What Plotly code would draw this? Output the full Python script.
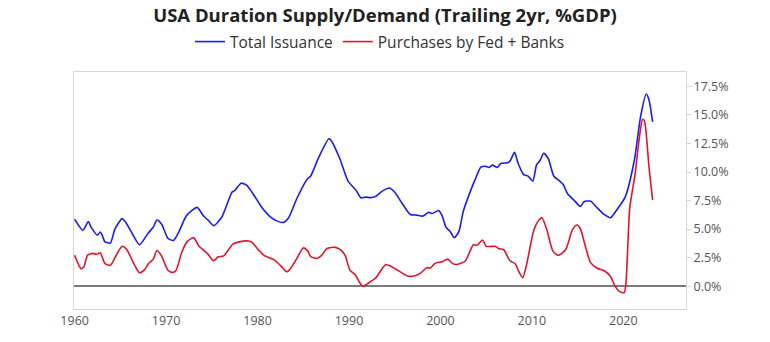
import plotly.graph_objects as go

# Total Issuance (trailing 2yr, % of GDP)
issuance_years = [1960.0, 1960.9, 1961.5, 1961.8, 1962.5, 1962.8, 1963.0, 1963.3, 1963.9, 1964.4,
                  1965.2, 1965.6, 1966.2, 1967.1, 1968.0, 1968.6, 1969.0, 1969.5, 1970.2, 1970.8,
                  1971.3, 1972.2, 1972.8, 1973.4, 1974.1, 1974.6, 1975.2, 1976.1, 1977.2, 1977.5,
                  1978.2, 1978.8, 1979.5, 1980.4, 1981.3, 1982.1, 1982.8, 1983.4, 1984.3, 1985.4,
                  1985.8, 1986.7, 1987.8, 1988.1, 1989.0, 1989.9, 1990.8, 1991.3, 1991.8, 1992.5,
                  1993.0, 1993.6, 1994.4, 1995.0, 1995.8, 1996.7, 1997.4, 1998.1, 1998.7, 1999.1,
                  1999.8, 2000.2, 2000.6, 2001.1, 2001.5, 2002.0, 2002.5, 2003.3, 2003.8, 2004.4,
                  2004.9, 2005.3, 2005.7, 2006.2, 2006.6, 2007.3, 2007.6, 2008.1, 2008.5, 2009.1,
                  2009.6, 2010.1, 2010.5, 2010.9, 2011.3, 2011.8, 2012.4, 2012.9, 2013.4, 2013.9,
                  2014.6, 2015.3, 2015.7, 2016.4, 2017.0, 2017.9, 2018.6, 2019.3, 2020.2, 2021.2,
                  2021.9, 2022.5, 2022.8, 2023.2]
issuance_values = [5.86, 4.9, 5.67, 5.17, 4.47, 4.75, 4.5, 3.9, 3.77, 5.0,
                   5.92, 5.58, 4.75, 3.63, 4.6, 5.17, 5.8, 5.44, 4.19, 4.0,
                   4.6, 6.14, 6.62, 6.9, 6.14, 5.78, 5.3, 6.06, 8.23, 8.37,
                   9.02, 8.85, 8.1, 6.98, 6.14, 5.72, 5.58, 6.0, 7.68, 9.35,
                   9.63, 11.3, 12.92, 12.7, 11.16, 9.2, 8.37, 7.73, 7.8, 7.76,
                   7.9, 8.3, 8.6, 8.23, 7.26, 6.28, 6.22, 6.14, 6.47, 6.36,
                   6.62, 6.14, 5.17, 4.75, 4.25, 4.75, 6.56, 8.37, 9.35, 10.4,
                   10.5, 10.4, 10.6, 10.4, 10.75, 10.8, 10.95, 11.73, 10.75, 9.77,
                   9.63, 9.2, 10.6, 11.03, 11.64, 11.16, 9.63, 9.3, 8.93, 8.1,
                   7.54, 6.98, 7.4, 7.45, 6.98, 6.28, 6.0, 6.7, 7.8, 11.03,
                   14.93, 16.83, 16.33, 14.38]

# Purchases by Fed + Banks (trailing 2yr, % of GDP)
purchases_years = [1960.0, 1960.7, 1961.0, 1961.4, 1962.0, 1962.4, 1962.8, 1963.3, 1963.9, 1964.6,
                   1965.2, 1965.7, 1966.4, 1967.1, 1967.6, 1968.1, 1968.6, 1969.0, 1969.5, 1970.2,
                   1970.7, 1971.1, 1971.7, 1972.3, 1973.0, 1973.6, 1974.1, 1974.6, 1975.2, 1975.7,
                   1976.3, 1977.3, 1978.1, 1979.0, 1979.4, 1980.0, 1980.7, 1981.8, 1982.5, 1983.2,
                   1983.6, 1984.3, 1985.0, 1985.5, 1985.8, 1986.5, 1987.0, 1987.6, 1988.5, 1989.2,
                   1989.6, 1990.1, 1990.7, 1991.2, 1991.5, 1992.0, 1992.5, 1992.9, 1994.0, 1994.4,
                   1995.3, 1996.4, 1997.1, 1997.8, 1998.5, 1998.9, 1999.4, 2000.2, 2000.8, 2001.3,
                   2001.8, 2002.7, 2003.6, 2004.0, 2004.6, 2005.0, 2006.0, 2006.4, 2006.9, 2007.6,
                   2008.2, 2008.5, 2009.0, 2009.4, 2010.2, 2010.7, 2011.1, 2011.6, 2012.3, 2012.9,
                   2013.7, 2014.4, 2014.9, 2015.3, 2015.8, 2016.4, 2017.1, 2018.0, 2018.6, 2019.1,
                   2019.6, 2020.1, 2020.3, 2020.7, 2021.3, 2021.7, 2022.1, 2022.3, 2022.8, 2023.2]
purchases_values = [2.7, 1.53, 1.67, 2.7, 2.87, 2.79, 2.93, 2.0, 1.82, 2.79,
                    3.49, 3.21, 2.09, 1.17, 1.4, 2.0, 2.37, 3.12, 2.65, 1.4,
                    1.2, 1.4, 2.93, 3.9, 4.25, 3.49, 3.16, 2.79, 2.23, 2.57,
                    2.65, 3.68, 3.9, 3.96, 3.83, 3.27, 2.7, 2.32, 1.82, 1.26,
                    1.53, 2.43, 3.35, 3.07, 2.6, 2.43, 2.7, 3.3, 3.4, 3.12,
                    2.65, 1.4, 0.98, 0.28, 0.0, 0.2, 0.48, 0.7, 1.87, 1.82,
                    1.4, 0.89, 0.89, 1.12, 1.62, 1.59, 2.0, 2.15, 2.37, 2.0,
                    1.9, 2.18, 3.63, 3.58, 4.05, 3.49, 3.49, 3.27, 3.21, 2.23,
                    1.95, 1.4, 0.75, 1.82, 4.88, 5.72, 6.0, 5.03, 3.07, 2.7,
                    3.21, 4.88, 5.36, 5.03, 3.63, 2.09, 1.59, 1.31, 0.84, 0.0,
                    -0.48, -0.56, 0.42, 6.84, 9.9, 12.7, 14.6, 14.5, 10.47, 7.54]

x_tick_values = [1960, 1970, 1980, 1990, 2000, 2010, 2020]
y_tick_values = [0.0, 2.5, 5.0, 7.5, 10.0, 12.5, 15.0, 17.5]

FONT = "Open Sans, Noto Sans, sans-serif"

fig = go.Figure()
fig.add_trace(go.Scatter(x=issuance_years, y=issuance_values, mode="lines",
                         name="Total Issuance",
                         line=dict(color="#1a1aff", width=1.6, shape="spline", smoothing=0.6)))
fig.add_trace(go.Scatter(x=purchases_years, y=purchases_values, mode="lines",
                         name="Purchases by Fed + Banks",
                         line=dict(color="#e3132b", width=1.6, shape="spline", smoothing=0.6)))

fig.update_layout(
    width=770, height=342,
    margin=dict(l=74, r=84, t=61, b=33),
    paper_bgcolor="white", plot_bgcolor="white",
    font=dict(family=FONT, color="#555555", size=12),
    title=dict(text="<b>USA Duration Supply/Demand (Trailing 2yr, %GDP)</b>",
               x=0.5, xanchor="center", y=1 - 16 / 342, yanchor="middle",
               yref="container",
               font=dict(family=FONT, size=18.5, color="#222222")),
    legend=dict(orientation="h", x=0.5, xanchor="center",
                y=1 - 42 / 342, yanchor="middle", yref="container",
                font=dict(family=FONT, size=15.5, color="#333333"),
                itemwidth=30,
                bgcolor="rgba(0,0,0,0)"),
    showlegend=True,
)

fig.update_xaxes(
    range=[1959.93, 2026.85],
    tickvals=x_tick_values,
    ticktext=[str(v) for v in x_tick_values],
    showgrid=False, zeroline=False,
    showline=True, linecolor="#d6d6d6", linewidth=1, mirror=True,
    ticks="", tickfont=dict(size=12.5, color="#555555"),
)
fig.update_yaxes(
    range=[-2.0, 18.76],
    side="right",
    tickvals=y_tick_values,
    ticktext=[f"{v:.1f}%" for v in y_tick_values],
    showgrid=False,
    zeroline=True, zerolinecolor="#7a7a7a", zerolinewidth=1.5,
    showline=True, linecolor="#d6d6d6", linewidth=1, mirror=True,
    ticks="outside", ticklen=4, tickcolor="#d6d6d6",
    tickfont=dict(size=12.5, color="#555555"),
)

fig.write_html("out.html")
